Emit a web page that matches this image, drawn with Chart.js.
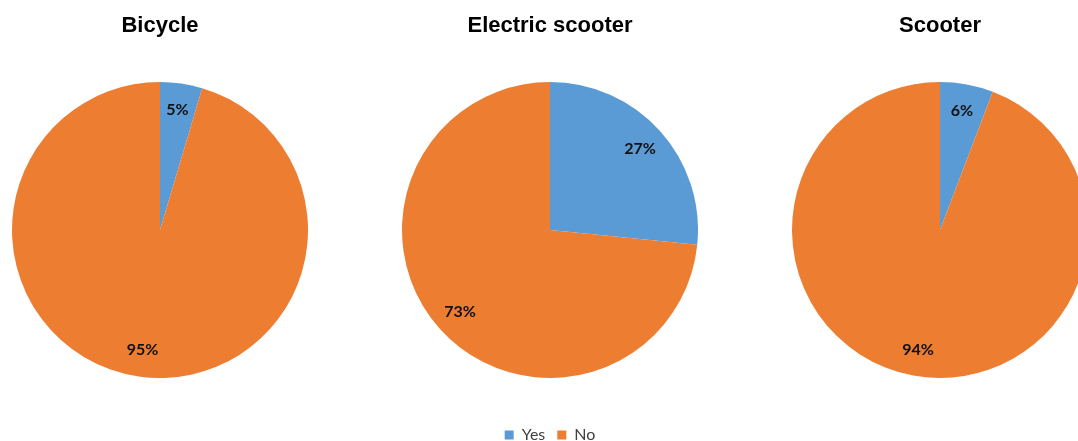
<!DOCTYPE html>
<html>
<head>
<meta charset="utf-8">
<script src="https://cdn.jsdelivr.net/npm/chart.js@4/dist/chart.umd.min.js"></script>
<style>
  html, body { margin: 0; padding: 0; background: #fff; width: 1078px; height: 441px; overflow: hidden; }
  canvas { position: absolute; top: 0; }
</style>
</head>
<body>
<canvas id="c1" width="296" height="378" style="left:12px;width:296px;height:378px"></canvas>
<canvas id="c2" width="296" height="453" style="left:402px;width:296px;height:453px"></canvas>
<canvas id="c3" width="296" height="378" style="left:792px;width:296px;height:378px"></canvas>
<script>
const categories = ['Yes', 'No'];
const chartTitles = ['Bicycle', 'Electric scooter', 'Scooter'];
const bicycleValues = [4.6, 95.4];
const electricScooterValues = [26.6, 73.4];
const scooterValues = [5.8, 94.2];
const sliceColors = ['#5B9BD5', '#ED7D31'];

const pctLabels = {
  id: 'pctLabels',
  afterDatasetsDraw(chart) {
    const ctx = chart.ctx;
    const ds = chart.data.datasets[0];
    const total = ds.data.reduce((a, b) => a + b, 0);
    const meta = chart.getDatasetMeta(0);
    ctx.save();
    ctx.font = 'bold 16px Lato, "Open Sans", sans-serif';
    ctx.fillStyle = '#111';
    ctx.textAlign = 'center';
    ctx.textBaseline = 'middle';
    meta.data.forEach((arc, i) => {
      const p = arc.getProps(['x', 'y', 'startAngle', 'endAngle', 'outerRadius'], true);
      const mid = (p.startAngle + p.endAngle) / 2;
      const r = p.outerRadius * 0.82;
      const x = p.x + Math.cos(mid) * r;
      const y = p.y + Math.sin(mid) * r;
      ctx.fillText(Math.round(ds.data[i] / total * 100) + '%', x, y);
    });
    ctx.restore();
  }
};

function makePie(id, title, values, showLegend) {
  return new Chart(document.getElementById(id), {
    type: 'pie',
    data: {
      labels: categories,
      datasets: [{ data: values, backgroundColor: sliceColors, borderWidth: 0, hoverOffset: 0 }]
    },
    options: {
      responsive: false,
      animation: false,
      devicePixelRatio: 1,
      layout: { padding: 0 },
      plugins: {
        tooltip: { enabled: false },
        title: {
          display: true,
          text: title,
          color: '#000',
          font: { family: '"Liberation Sans", Arial, sans-serif', size: 22, weight: 'bold' },
          padding: { top: 13, bottom: 42.6 }
        },
        legend: {
          display: showLegend,
          position: 'bottom',
          title: { display: true, text: '', font: { size: 10 }, padding: { top: 12, bottom: 13 } },
          labels: {
            boxWidth: 9,
            boxHeight: 9,
            padding: 12,
            color: '#404040',
            font: { family: 'Lato, "Open Sans", sans-serif', size: 16 }
          }
        }
      }
    },
    plugins: [pctLabels]
  });
}

makePie('c1', chartTitles[0], bicycleValues, false);
makePie('c2', chartTitles[1], electricScooterValues, true);
makePie('c3', chartTitles[2], scooterValues, false);
</script>
</body>
</html>
